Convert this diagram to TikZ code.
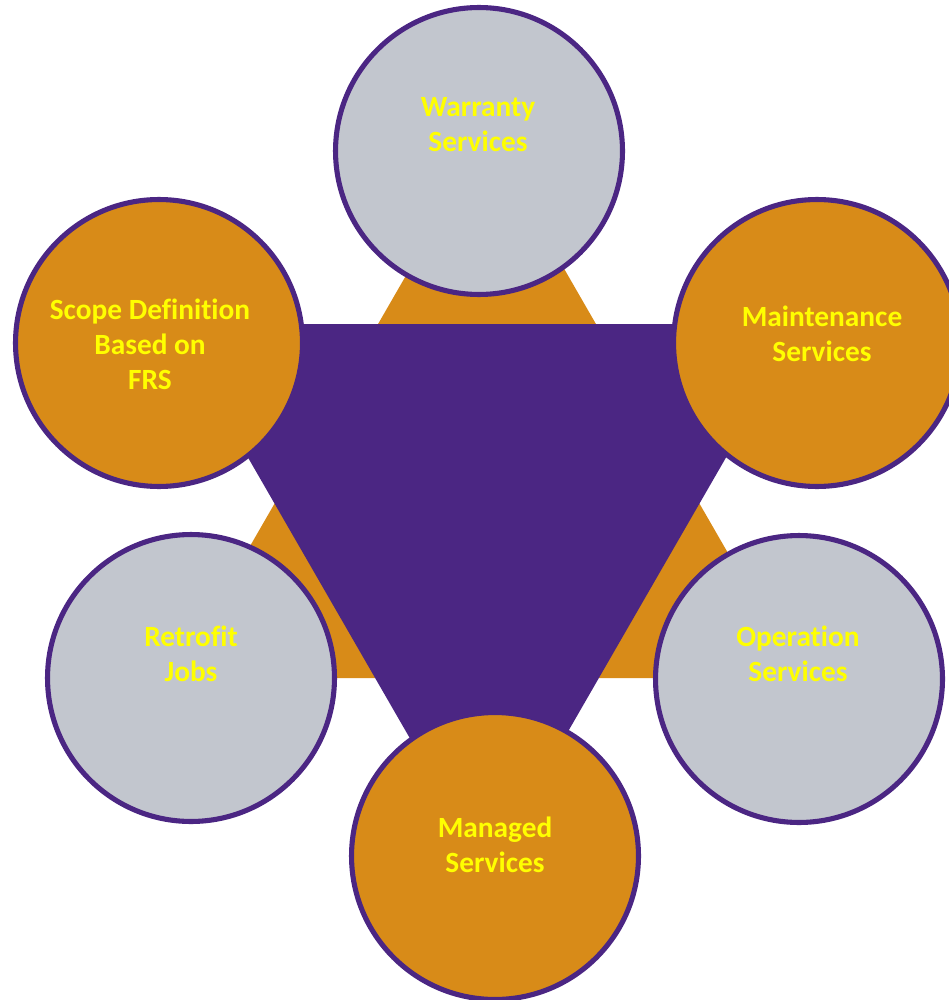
\documentclass[tikz,border=0pt]{standalone}
\usepackage{fontspec}
\setmainfont{Carlito}[Ligatures=NoCommon]
\usepackage{tikz}
\definecolor{deeppurple}{HTML}{4B2683}
\definecolor{amber}{HTML}{D88B18}
\definecolor{steelgrey}{HTML}{C2C6CE}
\definecolor{brightyellow}{HTML}{FFFF00}
\tikzset{
svc/.style = {circle, draw=deeppurple, line width=2.9pt, fill=#1,
              minimum size=5.74cm, inner sep=0pt},
svc/.default = steelgrey % grey circles
}
\tikzset{
txt/.style = {text=brightyellow, align=center,
              font=\fontsize{16.7}{20}\selectfont\bfseries}
}

\begin{document}
\begin{tikzpicture}[x=0.02cm, y=-0.02cm]
\useasboundingbox (0,0) rectangle (949,1000);

% the two triangles
\fill[amber] (174,678) -- (800,678) -- (487,135) -- cycle;
\fill[deeppurple] (171,324) -- (803,324) -- (487,872) -- cycle;

\node[svc] (warranty) at (479,151) {};
\node[svc=amber] (scope) at (159,343) {};
\node[svc=amber] (maint) at (817,343) {};
\node[svc] (retrofit) at (191,678) {};
\node[svc] (oper) at (799,679) {};
\node[svc=amber] (managed) at (495,856) {};

\node[txt] (warrantyT) at (478,125) {Warranty\\Services};
\node[txt] (scopeT) at (150,344) {Scope Definition\\Based on\\FRS};
\node[txt] (maintT) at (822,334) {Maintenance\\Services};
\node[txt] (retrofitT) at (191,654) {Retrofit\\Jobs};
\node[txt] (operT) at (798,654) {Operation\\Services};
\node[txt] (managedT) at (495,845) {Managed\\Services};
\end{tikzpicture}
\end{document}
